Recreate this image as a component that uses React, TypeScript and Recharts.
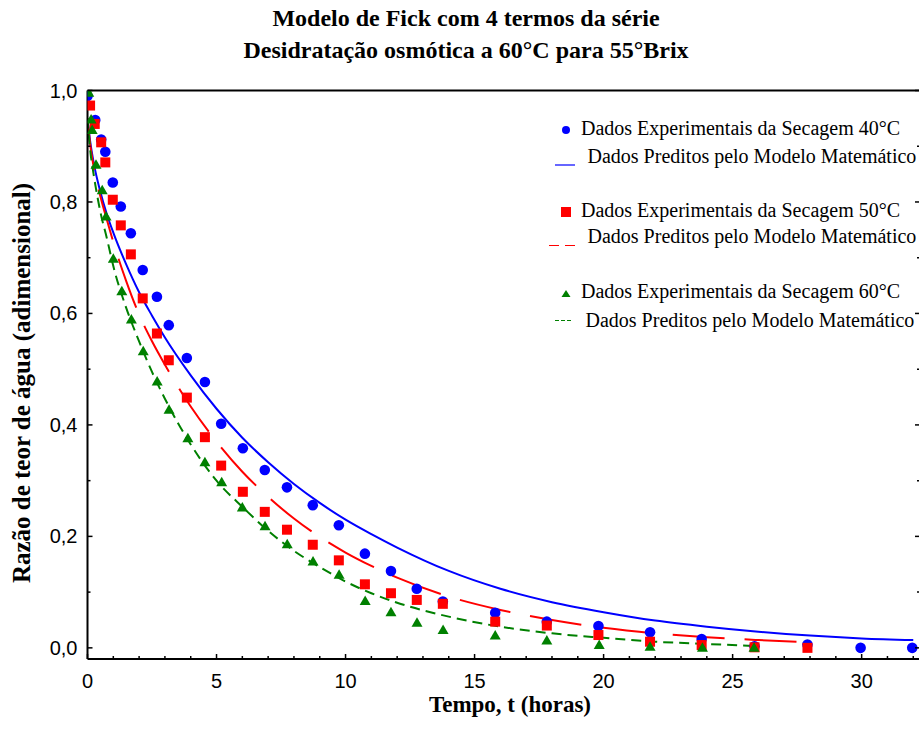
import React from 'react';
import { ComposedChart, Line, Scatter, XAxis, YAxis, Legend } from 'recharts';

const SERIF = '"Liberation Serif", "Times New Roman", serif';
const SANS = '"Liberation Sans", Arial, sans-serif';

const BLUE = '#0000ff';
const RED = '#ff0000';
const GREEN = '#008000';

// Experimental points, time in hours
const t40 = [0, 0.3, 0.53, 0.69, 0.98, 1.29, 1.68, 2.14, 2.69, 3.15, 3.85, 4.55, 5.18, 6.02, 6.87, 7.73, 8.73, 9.74, 10.75, 11.76, 12.76, 13.77, 15.8, 17.8, 19.8, 21.8, 23.8, 25.85, 27.9, 29.96, 31.96];
const mr40 = [0.99, 0.947, 0.912, 0.89, 0.835, 0.792, 0.744, 0.678, 0.63, 0.579, 0.52, 0.477, 0.402, 0.358, 0.319, 0.288, 0.256, 0.22, 0.169, 0.138, 0.106, 0.083, 0.063, 0.047, 0.039, 0.028, 0.016, 0.003, 0.006, 0.0, 0.0];

const t50 = [0.1, 0.28, 0.53, 0.69, 0.98, 1.29, 1.68, 2.14, 2.69, 3.15, 3.85, 4.55, 5.18, 6.02, 6.87, 7.73, 8.73, 9.74, 10.75, 11.76, 12.76, 13.77, 15.8, 17.8, 19.8, 21.8, 23.8, 25.85, 27.9];
const mr50 = [0.973, 0.94, 0.907, 0.871, 0.804, 0.758, 0.706, 0.627, 0.564, 0.516, 0.449, 0.378, 0.327, 0.28, 0.244, 0.212, 0.185, 0.157, 0.114, 0.098, 0.086, 0.079, 0.047, 0.04, 0.023, 0.011, 0.005, 0.001, 0.0];

const t60 = [0.05, 0.14, 0.18, 0.33, 0.57, 0.72, 1.0, 1.33, 1.7, 2.16, 2.7, 3.16, 3.89, 4.55, 5.2, 6.0, 6.88, 7.74, 8.74, 9.75, 10.76, 11.76, 12.77, 13.78, 15.8, 17.8, 19.83, 21.8, 23.83, 25.83];
const mr60 = [0.996, 0.948, 0.929, 0.867, 0.821, 0.774, 0.698, 0.64, 0.589, 0.532, 0.478, 0.427, 0.376, 0.333, 0.297, 0.252, 0.218, 0.186, 0.155, 0.131, 0.084, 0.064, 0.045, 0.032, 0.022, 0.013, 0.005, 0.002, 0.0, 0.0];

// Predicted curves (Fick, 4 terms)
const tFit = [0, 0.1, 0.25, 0.5, 0.75, 1, 1.5, 2, 2.5, 3, 4, 5, 6, 7, 8, 9, 10, 11, 12, 14, 16, 18, 20, 22, 24, 26, 28, 30, 32];
const fit40 = [0.95, 0.91, 0.868, 0.818, 0.778, 0.745, 0.688, 0.638, 0.596, 0.557, 0.489, 0.429, 0.377, 0.333, 0.294, 0.26, 0.23, 0.204, 0.18, 0.138, 0.106, 0.082, 0.064, 0.049, 0.038, 0.029, 0.022, 0.017, 0.014];
const fit50 = [0.95, 0.905, 0.86, 0.81, 0.768, 0.728, 0.658, 0.598, 0.55, 0.508, 0.433, 0.37, 0.316, 0.271, 0.232, 0.199, 0.171, 0.147, 0.126, 0.092, 0.068, 0.05, 0.036, 0.026, 0.019, 0.014, 0.01];
const fit60 = [0.95, 0.895, 0.846, 0.782, 0.735, 0.685, 0.61, 0.55, 0.495, 0.447, 0.365, 0.3, 0.253, 0.21, 0.174, 0.145, 0.119, 0.098, 0.081, 0.056, 0.038, 0.026, 0.018, 0.011, 0.007, 0.003];

const xTicks = [0, 1, 2, 3, 4, 5, 6, 7, 8, 9, 10, 11, 12, 13, 14, 15, 16, 17, 18, 19, 20, 21, 22, 23, 24, 25, 26, 27, 28, 29, 30, 31, 32];
const xLabels = [0, 5, 10, 15, 20, 25, 30];
const yTicks = [0, 0.1, 0.2, 0.3, 0.4, 0.5, 0.6, 0.7, 0.8, 0.9, 1.0];
const yLabels = [0, 0.2, 0.4, 0.6, 0.8, 1.0];

const legendLabels = [
  'Dados Experimentais da Secagem 40°C',
  'Dados Preditos pelo Modelo Matemático',
  'Dados Experimentais da Secagem 50°C',
  'Dados Preditos pelo Modelo Matemático',
  'Dados Experimentais da Secagem 60°C',
  'Dados Preditos pelo Modelo Matemático',
];

const X_DOMAIN = [0, 32.3];
const Y_DOMAIN = [-0.02, 1.0];

const zip = (ts: number[], vs: number[]) => vs.map((v, i) => ({ t: ts[i], v }));

const pts40 = zip(t40, mr40);
const pts50 = zip(t50, mr50);
const pts60 = zip(t60, mr60);
const line40 = zip(tFit, fit40);
const line50 = zip(tFit, fit50);
const line60 = zip(tFit, fit60);

const isLabel = (list: number[], v: number) => list.some((l) => Math.abs(l - v) < 1e-6);

const BottomTick = ({ x, y, payload }: any) => {
  const major = isLabel(xLabels, payload.value);
  return (
    <g>
      <line x1={x} x2={x} y1={y} y2={y - (major ? 5 : 3)} stroke="#000" strokeWidth={1.5} />
      {major && (
        <text x={x} y={y + 29} textAnchor="middle" fontFamily={SANS} fontSize={20} fill="#000">
          {payload.value}
        </text>
      )}
    </g>
  );
};

const TopTick = ({ x, y, payload }: any) => {
  const major = isLabel(xLabels, payload.value);
  return <line x1={x} x2={x} y1={y} y2={y + (major ? 5 : 3)} stroke="#000" strokeWidth={1.5} />;
};

const LeftTick = ({ x, y, payload }: any) => {
  const major = isLabel(yLabels, payload.value);
  return (
    <g>
      <line x1={x} x2={x + (major ? 5 : 3)} y1={y} y2={y} stroke="#000" strokeWidth={1.5} />
      {major && (
        <text x={x - 10} y={y + 7} textAnchor="end" fontFamily={SANS} fontSize={20} fill="#000">
          {payload.value.toFixed(1).replace('.', ',')}
        </text>
      )}
    </g>
  );
};

const RightTick = ({ x, y, payload }: any) => {
  const major = isLabel(yLabels, payload.value);
  return <line x1={x} x2={x - (major ? 6 : 4)} y1={y} y2={y} stroke="#000" strokeWidth={1.5} />;
};

const BlueDot = ({ cx, cy }: any) => <circle cx={cx} cy={cy} r={5.3} fill={BLUE} />;
const RedSquare = ({ cx, cy }: any) => <rect x={cx - 5} y={cy - 5} width={10} height={10} fill={RED} />;
const GreenTriangle = ({ cx, cy }: any) => (
  <polygon points={`${cx},${cy - 5.5} ${cx + 5.5},${cy + 4} ${cx - 5.5},${cy + 4}`} fill={GREEN} />
);

// legend drawn at absolute coordinates, origin at (540, 110)
const LegendBox = () => {
  const ox = 540;
  const oy = 110;
  const rows = [
    { x: 581, base: 135 },
    { x: 587.5, base: 163 },
    { x: 581, base: 217 },
    { x: 587.5, base: 243 },
    { x: 581, base: 298 },
    { x: 585.5, base: 327 },
  ];
  return (
    <svg width={380} height={230} style={{ overflow: 'visible' }}>
      <g transform={`translate(${-ox}, ${-oy})`}>
        <circle cx={566} cy={130} r={4} fill={BLUE} />
        <line x1={555} x2={575} y1={165} y2={165} stroke={BLUE} strokeWidth={1.2} />
        <rect x={561} y={207} width={10} height={10} fill={RED} />
        <line x1={549} x2={575} y1={245.5} y2={245.5} stroke={RED} strokeWidth={1.2} strokeDasharray="10 6" />
        <polygon points="566,290 570.5,297 561.5,297" fill={GREEN} />
        <line x1={555} x2={573} y1={320.5} y2={320.5} stroke={GREEN} strokeWidth={1.2} strokeDasharray="4 2" />
        {legendLabels.map((label, i) => (
          <text key={i} x={rows[i].x} y={rows[i].base} fontFamily={SERIF} fontSize={20} fill="#000">
            {label}
          </text>
        ))}
      </g>
    </svg>
  );
};

const frame = { stroke: '#000', strokeWidth: 2 };

export default function App() {
  return (
    <div style={{ position: 'absolute', left: 0, top: 0, width: 919, height: 745, overflow: 'hidden', background: '#fff' }}>
      <ComposedChart
        width={925}
        height={745}
        margin={{ top: 89.5, right: 3, bottom: 85, left: 86.5 }}
      >
        <XAxis
          xAxisId="b"
          type="number"
          dataKey="t"
          domain={X_DOMAIN}
          ticks={xTicks}
          allowDataOverflow
          height={1}
          tickSize={0}
          tickMargin={0}
          tickLine={false}
          tick={<BottomTick />}
          interval={0}
          axisLine={frame}
        />
        <XAxis
          xAxisId="top"
          orientation="top"
          type="number"
          domain={X_DOMAIN}
          ticks={xTicks}
          allowDataOverflow
          height={1}
          tickSize={0}
          tickMargin={0}
          tickLine={false}
          tick={<TopTick />}
          interval={0}
          axisLine={frame}
        />
        <YAxis
          yAxisId="l"
          type="number"
          dataKey="v"
          domain={Y_DOMAIN}
          ticks={yTicks}
          allowDataOverflow
          width={1}
          tickSize={0}
          tickMargin={0}
          tickLine={false}
          tick={<LeftTick />}
          interval={0}
          axisLine={frame}
        />
        <YAxis
          yAxisId="r"
          orientation="right"
          type="number"
          domain={Y_DOMAIN}
          ticks={yTicks}
          allowDataOverflow
          width={1}
          tickSize={0}
          tickMargin={0}
          tickLine={false}
          tick={<RightTick />}
          interval={0}
          axisLine={frame}
        />

        <Scatter xAxisId="b" yAxisId="l" data={pts40} dataKey="v" shape={<BlueDot />} isAnimationActive={false} />
        <Line xAxisId="b" yAxisId="l" data={line40} dataKey="v" type="monotone" stroke={BLUE} strokeWidth={2} dot={false} activeDot={false} isAnimationActive={false} />
        <Scatter xAxisId="b" yAxisId="l" data={pts50} dataKey="v" shape={<RedSquare />} isAnimationActive={false} />
        <Line xAxisId="b" yAxisId="l" data={line50} dataKey="v" type="monotone" stroke={RED} strokeWidth={2} strokeDasharray="52 20" dot={false} activeDot={false} isAnimationActive={false} />
        <Scatter xAxisId="b" yAxisId="l" data={pts60} dataKey="v" shape={<GreenTriangle />} isAnimationActive={false} />
        <Line xAxisId="b" yAxisId="l" data={line60} dataKey="v" type="monotone" stroke={GREEN} strokeWidth={2} strokeDasharray="10 6" dot={false} activeDot={false} isAnimationActive={false} />

        <Legend
          layout="horizontal"
          align="center"
          verticalAlign="middle"
          wrapperStyle={{ left: 540, top: 110, width: 380 }}
          content={<LegendBox />}
        />

        <text x={466} y={26} textAnchor="middle" fontFamily={SERIF} fontSize={24} fontWeight="bold" fill="#000">
          Modelo de Fick com 4 termos da série
        </text>
        <text x={466} y={58} textAnchor="middle" fontFamily={SERIF} fontSize={24} fontWeight="bold" fill="#000">
          Desidratação osmótica a 60°C para 55°Brix
        </text>
        <text x={510} y={712} textAnchor="middle" fontFamily={SERIF} fontSize={23} fontWeight="bold" fill="#000">
          Tempo, t (horas)
        </text>
        <text
          transform="translate(30, 383) rotate(-90)"
          textAnchor="middle"
          fontFamily={SERIF}
          fontSize={25}
          fontWeight="bold"
          fill="#000"
        >
          Razão de teor de água (adimensional)
        </text>
      </ComposedChart>
    </div>
  );
}
